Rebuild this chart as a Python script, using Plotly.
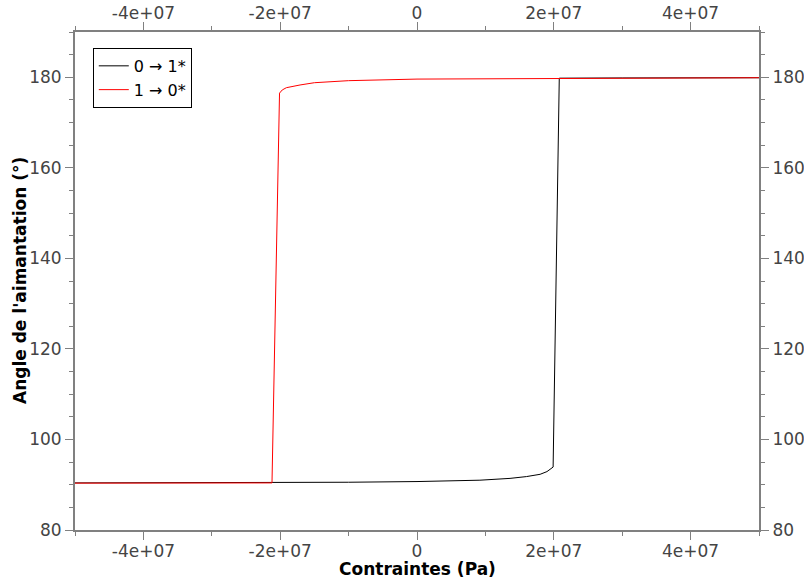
import plotly.graph_objects as go

# Data
black_x = [-5e7, -3e7, -2.12e7, -1e7, 0, 5e6, 9.2e6, 1.36e7, 1.6e7, 1.8e7, 1.9e7, 1.99e7, 2.08e7, 3e7, 5e7]
black_y = [90.4, 90.42, 90.45, 90.55, 90.7, 90.8, 91.0, 91.4, 91.8, 92.3, 92.9, 93.9, 179.8, 179.85, 179.9]

red_x = [5e7, 2.2e7, 0, -1e7, -1.5e7, -1.71e7, -1.85e7, -1.91e7, -1.97e7, -2.01e7, -2.12e7, -3.5e7, -5e7]
red_y = [179.9, 179.8, 179.6, 179.25, 178.8, 178.3, 177.9, 177.7, 177.2, 176.5, 90.4, 90.38, 90.35]

x_tickvals = [-4e7, -2e7, 0, 2e7, 4e7]
x_ticktext = ["-4e+07", "-2e+07", "0", "2e+07", "4e+07"]
y_tickvals = [80, 100, 120, 140, 160, 180]

x_range = [-5e7, 5e7]
y_range = [80, 190]

series_names = ["0 → 1*", "1 → 0*"]
x_title = "<b>Contraintes (Pa)</b>"
y_title = "<b>Angle de l'aimantation (°)</b>"

FONT = "DejaVu Sans"
AX_COLOR = "#808080"
TICK_FONT = dict(family=FONT, size=17, color="#444444")

fig = go.Figure()
fig.add_trace(go.Scatter(x=black_x, y=black_y, mode="lines", name=series_names[0],
                         line=dict(color="#000000", width=1)))
fig.add_trace(go.Scatter(x=red_x, y=red_y, mode="lines", name=series_names[1],
                         line=dict(color="#ff0000", width=1)))
# dummy trace to activate mirrored (labelled) axes
fig.add_trace(go.Scatter(x=[x_range[0]], y=[y_range[0]], xaxis="x2", yaxis="y2",
                         mode="markers", marker=dict(opacity=0), showlegend=False,
                         hoverinfo="skip"))

common_x = dict(range=x_range, tickvals=x_tickvals, ticktext=x_ticktext,
                ticks="outside", ticklen=8, tickwidth=1, tickcolor=AX_COLOR,
                showline=True, linecolor=AX_COLOR, linewidth=2,
                showgrid=False, zeroline=False, tickfont=TICK_FONT,
                automargin=False,
                minor=dict(dtick=1e7, tick0=0, ticks="outside", ticklen=4,
                           tickcolor=AX_COLOR, tickwidth=1, showgrid=False))
common_y = dict(range=y_range, tickvals=y_tickvals,
                ticks="outside", ticklen=8, tickwidth=1, tickcolor=AX_COLOR,
                showline=True, linecolor=AX_COLOR, linewidth=2,
                showgrid=False, zeroline=False, tickfont=TICK_FONT,
                automargin=False,
                minor=dict(dtick=5, tick0=0, ticks="outside", ticklen=4,
                           tickcolor=AX_COLOR, tickwidth=1, showgrid=False))

fig.update_layout(
    width=804, height=581,
    margin=dict(l=75, r=45, t=32, b=51),
    paper_bgcolor="white", plot_bgcolor="white",
    font=dict(family=FONT, color="#000000"),
    xaxis=dict(**common_x, ticklabelstandoff=-3),
    yaxis=dict(**common_y),
    xaxis2=dict(**common_x, overlaying="x", side="top", anchor="y",
                ticklabelstandoff=-4),
    yaxis2=dict(**common_y, overlaying="y", side="right", anchor="x"),
    legend=dict(x=0.026, y=0.968, xanchor="left", yanchor="top",
                bgcolor="white", bordercolor="#000000", borderwidth=1,
                font=dict(family=FONT, size=16, color="#000000"),
                tracegroupgap=0),
    showlegend=True,
    annotations=[
        dict(text=x_title, xref="paper", yref="paper", x=0.5, y=-0.078,
             xanchor="center", yanchor="middle", showarrow=False,
             font=dict(family=FONT, size=17, color="#000000")),
        dict(text=y_title, xref="paper", yref="paper", x=-0.0804, y=0.5,
             xanchor="center", yanchor="middle", showarrow=False, textangle=-90,
             font=dict(family=FONT, size=17, color="#000000")),
    ],
)

fig.write_html(
    "out.html",
    config={"displayModeBar": False},
    post_script="document.body.style.margin='0';document.body.style.overflow='hidden';",
)
